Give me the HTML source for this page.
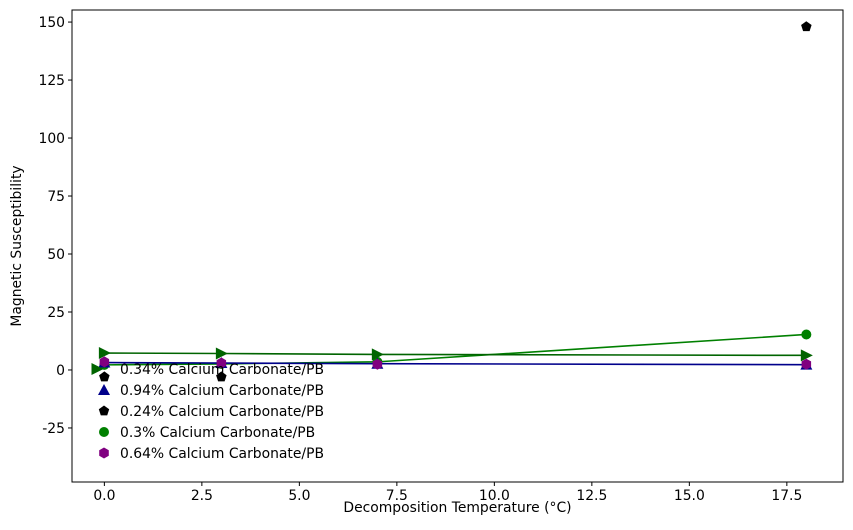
<!DOCTYPE html>
<html><head><meta charset="utf-8"><style>
body{margin:0;background:#fff;}
svg{font-family:"DejaVu Sans","Liberation Sans",sans-serif;}
</style></head><body>
<svg id="chart" width="853" height="525" viewBox="0 0 853 525" xmlns="http://www.w3.org/2000/svg"></svg>
<script>
const xTicks=[0,2.5,5,7.5,10,12.5,15,17.5];
const xTickLabels=["0.0","2.5","5.0","7.5","10.0","12.5","15.0","17.5"];
const yTicks=[-25,0,25,50,75,100,125,150];
const s034X=[0,3,7,18]; const s034Y=[7.3,7.1,6.7,6.3];
const s094X=[0,3,7,18]; const s094Y=[3.2,3.0,2.7,2.3];
const s024X=[0,3,18]; const s024Y=[-3,-3,148];
const s03X=[0,3,7,18]; const s03Y=[2.2,2.6,3.5,15.3];
const s064X=[0,3,7,18]; const s064Y=[3.5,3.0,2.5,2.5];
const legendLabels=["0.34% Calcium Carbonate/PB","0.94% Calcium Carbonate/PB","0.24% Calcium Carbonate/PB","0.3% Calcium Carbonate/PB","0.64% Calcium Carbonate/PB"];

const L=72,R=843,T=10,B=482;
const X0=-0.83,X1=18.94,Y0=-48.3,Y1=155.2;
const FS=13.9;
const sx=v=>L+(v-X0)/(X1-X0)*(R-L);
const sy=v=>B-(v-Y0)/(Y1-Y0)*(B-T);
const svg=document.getElementById('chart');
const NS='http://www.w3.org/2000/svg';
function mk(tag,attrs,parent){const e=document.createElementNS(NS,tag);for(const k in attrs)e.setAttribute(k,attrs[k]);(parent||svg).appendChild(e);return e;}

function marker(type,x,y,color,g){
  let e;
  if(type==='tri-right'){e=mk('polygon',{points:`${x-5.5},${y-6} ${x+6.5},${y} ${x-5.5},${y+6}`,fill:color},g);}
  else if(type==='tri-up'){e=mk('polygon',{points:`${x},${y-6} ${x+6},${y+5} ${x-6},${y+5}`,fill:color},g);}
  else if(type==='pent'){let p=[];for(let i=0;i<5;i++){const a=-Math.PI/2+i*2*Math.PI/5;p.push((x+5.5*Math.cos(a)).toFixed(1)+','+(y+5.5*Math.sin(a)).toFixed(1));}e=mk('polygon',{points:p.join(' '),fill:color},g);}
  else if(type==='hex'){let p=[];for(let i=0;i<6;i++){const a=Math.PI/2+i*Math.PI/3;p.push((x+5.5*Math.cos(a)).toFixed(1)+','+(y+5.5*Math.sin(a)).toFixed(1));}e=mk('polygon',{points:p.join(' '),fill:color},g);}
  else {e=mk('circle',{cx:x,cy:y,r:5,fill:color},g);}
  return e;
}
function series(name,xs,ys,color,type,line){
  const g=mk('g',{});
  
  
  if(line){const pl=mk('polyline',{points:xs.map((v,i)=>sx(v)+','+sy(ys[i])).join(' '),fill:'none',stroke:color,'stroke-width':1.6},g);
    }
  xs.forEach((v,i)=>{const m=marker(type,sx(v),sy(ys[i]),color,g);
    });
}
const fr=mk('rect',{x:L,y:T,width:R-L,height:B-T,fill:'none',stroke:'#000','stroke-width':1});

xTicks.forEach((v,i)=>{const x=sx(v);mk('line',{x1:x,x2:x,y1:B,y2:B+4,stroke:'#000'});
  const t=mk('text',{x:x,y:B+18,'text-anchor':'middle','font-size':FS});t.textContent=xTickLabels[i];
  });
yTicks.forEach(v=>{const y=sy(v);mk('line',{x1:L-4,x2:L,y1:y,y2:y,stroke:'#000'});
  const t=mk('text',{x:L-7,y:y+5,'text-anchor':'end','font-size':FS});t.textContent=v;
  });
const xt=mk('text',{x:(L+R)/2,y:512,'text-anchor':'middle','font-size':FS});xt.textContent='Decomposition Temperature (°C)';

const yt=mk('text',{x:0,y:0,'text-anchor':'middle','font-size':FS,transform:`translate(21,${(T+B)/2}) rotate(-90)`});yt.textContent='Magnetic Susceptibility';


series('series-0.3pct',s03X,s03Y,'#008000','circle',true);
series('series-0.94pct',s094X,s094Y,'#00008b','tri-up',true);
series('series-0.34pct',s034X,s034Y,'#006400','tri-right',true);
series('series-0.24pct',s024X,s024Y,'#000000','pent',false);
series('series-0.64pct',s064X,s064Y,'#800080','hex',false);

const lg=mk('g',{});

const lt=[['tri-right','#006400'],['tri-up','#00008b'],['pent','#000000'],['circle','#008000'],['hex','#800080']];
legendLabels.forEach((s,i)=>{const y=369+i*21;
  const m=marker(lt[i][0],i===0?97:104,y,lt[i][1],lg);
  
  const t=mk('text',{x:120,y:y+5,'font-size':FS},lg);t.textContent=s;
  });
</script>
</body></html>
